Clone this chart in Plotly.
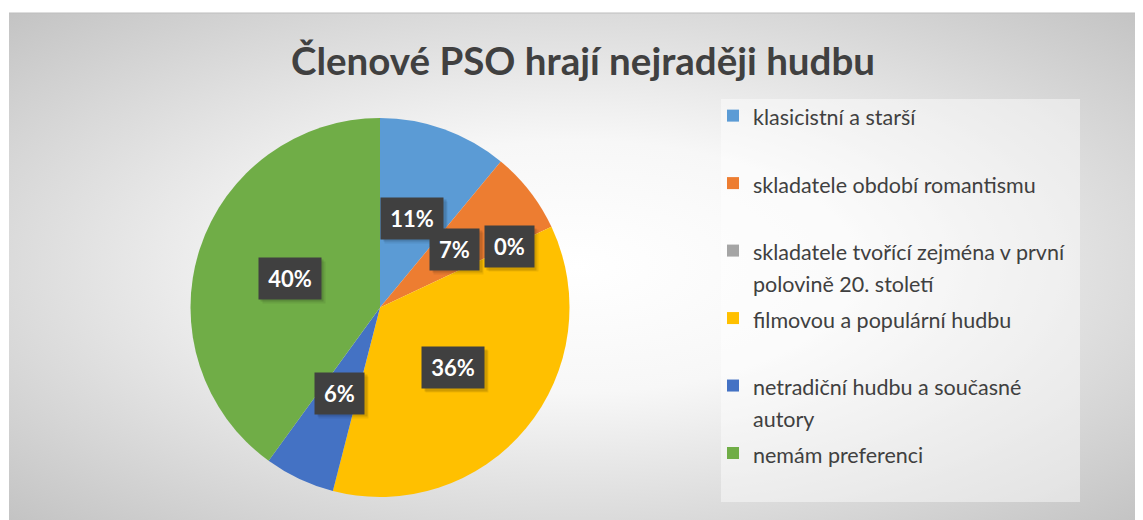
import base64
import math
import plotly.graph_objects as go

# ---------------- data ----------------
categories = [
    ["klasicistní a starší"],
    ["skladatele období romantismu"],
    ["skladatele tvořící zejména v první", "polovině 20. století"],
    ["filmovou a populární hudbu"],
    ["netradiční hudbu a současné", "autory"],
    ["nemám preferenci"],
]
values = [11, 7, 0, 36, 6, 40]          # percent of members
value_labels = ["11%", "7%", "0%", "36%", "6%", "40%"]
title_text = "Členové PSO hrají nejraději hudbu"

# ---------------- style ----------------
OFF = 8                     # browser body margin
W, H = 1143 - OFF, 520 - OFF
colors = ["#5B9BD5", "#ED7D31", "#A5A5A5", "#FFC000", "#4472C4", "#70AD47"]
label_radius = [0.5, 0.5, 0.755, 0.5, 0.5, 0.5]   # label distance as fraction of radius
FONT = "Lato"
TXT = "#404040"


def px_x(X):
    return (X - OFF) / W


def px_y(Y):
    return 1 - (Y - OFF) / H


PIE_L, PIE_R, PIE_T, PIE_B = 190, 570, 118, 497   # screen pixels
dom_x = [px_x(PIE_L), px_x(PIE_R)]
dom_y = [px_y(PIE_B), px_y(PIE_T)]
cx, cy = (PIE_L + PIE_R) / 2, (PIE_T + PIE_B) / 2
R = min(PIE_R - PIE_L, PIE_B - PIE_T) / 2

# legend entries: two lines each (padding line for single-line entries)
LEG_TXT = 21.5
legend_labels = []
for lines in categories:
    parts = ["<span style='font-size:%spx'>%s</span>" % (LEG_TXT, s) for s in lines]
    if len(parts) == 1:
        parts.append(" ")
    legend_labels.append("<br>".join(parts))

fig = go.Figure()
fig.add_trace(go.Pie(
    labels=legend_labels,
    values=values,
    sort=False,
    direction="clockwise",
    rotation=0,
    marker=dict(colors=colors, line=dict(width=0)),
    textinfo="none",
    hoverinfo="percent",
    domain=dict(x=dom_x, y=dom_y),
    showlegend=True,
))

# data labels placed at the slice mid-angles computed from the values
total = sum(values)
cum = 0
shadows, labels = [], []
for v, txt, f in zip(values, value_labels, label_radius):
    mid = 2 * math.pi * (cum + v / 2) / total
    cum += v
    X = cx + f * R * math.sin(mid)
    Y = cy - f * R * math.cos(mid)
    box = dict(xref="paper", yref="paper", showarrow=False,
               xanchor="center", yanchor="middle", borderpad=6,
               width=13 * len(txt) + 11, height=29, valign="middle")
    for d, a in ((4, 0.07), (2.5, 0.12)):
        shadows.append(dict(box, x=px_x(X + d), y=px_y(Y + d), text=" ",
                            bgcolor="rgba(0,0,0,%s)" % a,
                            font=dict(family=FONT, size=22, color="rgba(0,0,0,0)")))
    labels.append(dict(box, x=px_x(X), y=px_y(Y), text="<b>%s</b>" % txt,
                       bgcolor="#404040",
                       font=dict(family=FONT, size=22, color="white")))

# radial gradient chart-area background
svg = (
    '<svg xmlns="http://www.w3.org/2000/svg" width="1134" height="507" '
    'viewBox="0 0 1134 507" preserveAspectRatio="none">'
    '<defs><radialGradient id="g" cx="0.5" cy="0.5" r="0.71">'
    '<stop offset="0" stop-color="#ffffff"/>'
    '<stop offset="0.35" stop-color="#f7f7f7"/>'
    '<stop offset="1" stop-color="#c3c3c3"/>'
    '</radialGradient></defs>'
    '<rect width="1134" height="507" fill="url(#g)"/></svg>'
)
src = "data:image/svg+xml;base64," + base64.b64encode(svg.encode()).decode()

fig.update_layout(
    width=W, height=H,
    margin=dict(l=0, r=0, t=0, b=0),
    paper_bgcolor="white",
    title=dict(
        text="<b>%s</b>" % title_text,
        x=px_x(583), xanchor="center", y=px_y(62), yanchor="middle",
        font=dict(family=FONT, size=38.5, color=TXT),
    ),
    legend=dict(
        x=px_x(713), xanchor="left", y=px_y(93), yanchor="top",
        font=dict(family=FONT, size=24.8, color=TXT),
        bgcolor="rgba(0,0,0,0)", valign="top", traceorder="normal",
    ),
    images=[dict(
        source=src, xref="paper", yref="paper",
        x=px_x(9), y=px_y(13), sizex=1 - px_x(9), sizey=px_y(13),
        xanchor="left", yanchor="top", sizing="stretch", layer="below",
    )],
    shapes=[
        dict(type="rect", xref="paper", yref="paper",
             x0=px_x(721), x1=px_x(1080), y0=px_y(502), y1=px_y(99),
             fillcolor="rgba(255,255,255,0.45)", line=dict(width=0), layer="below"),
        dict(type="line", xref="paper", yref="paper",
             x0=px_x(9), x1=1, y0=px_y(13), y1=px_y(13),
             line=dict(color="#bdbdbd", width=1)),
    ],
    annotations=shadows + labels,
)

fig.write_html("out.html")
